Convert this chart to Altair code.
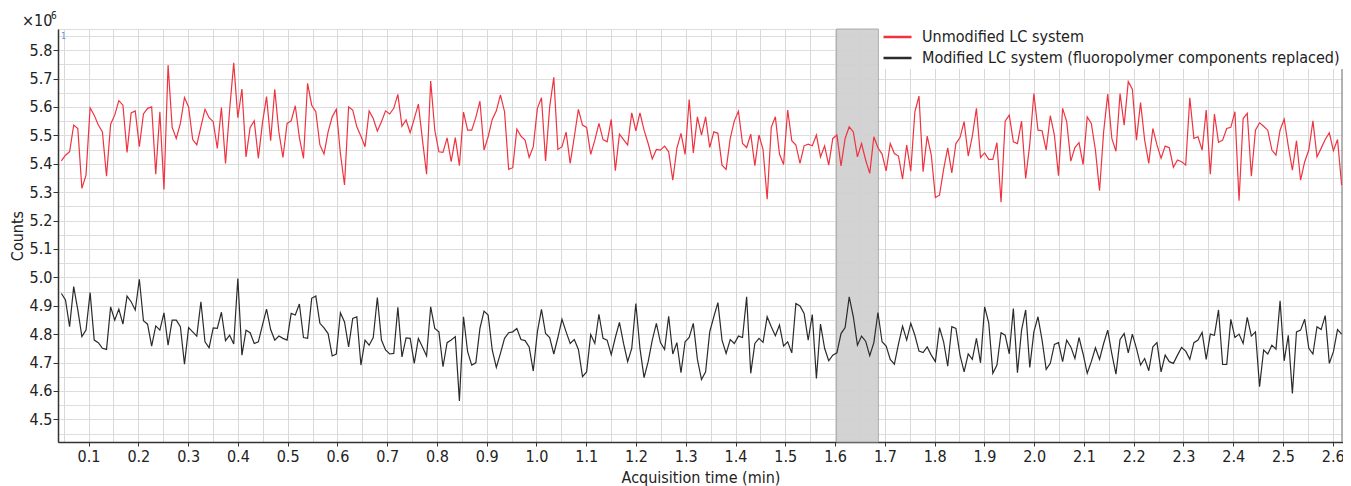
import altair as alt
import pandas as pd

# ---------------- data ----------------
SERIES = ["Unmodified LC system",
          "Modified LC system (fluoropolymer components replaced)"]
COLORS = ["#ef3340", "#2b2b2b"]

# acquisition: first scan time and scan interval (min)
t_start = 0.0454
t_step = 0.008245

unmodified = [
    5.410, 5.430, 5.442, 5.536, 5.524, 5.313, 5.360, 5.597, 5.571, 5.536,
    5.512, 5.356, 5.539, 5.571, 5.622, 5.606, 5.440, 5.579, 5.586, 5.460,
    5.575, 5.595, 5.600, 5.363, 5.583, 5.309, 5.747, 5.528, 5.489, 5.542,
    5.633, 5.600, 5.485, 5.466, 5.530, 5.592, 5.562, 5.548, 5.454, 5.598,
    5.401, 5.589, 5.755, 5.562, 5.663, 5.424, 5.528, 5.551, 5.419, 5.544,
    5.636, 5.481, 5.662, 5.512, 5.422, 5.542, 5.551, 5.604, 5.492, 5.419,
    5.683, 5.606, 5.583, 5.466, 5.434, 5.512, 5.565, 5.592, 5.436, 5.325,
    5.600, 5.589, 5.530, 5.497, 5.460, 5.586, 5.559, 5.515, 5.548, 5.586,
    5.575, 5.595, 5.644, 5.532, 5.554, 5.509, 5.559, 5.610, 5.483, 5.363,
    5.691, 5.518, 5.442, 5.440, 5.491, 5.407, 5.492, 5.393, 5.582, 5.518,
    5.518, 5.563, 5.620, 5.448, 5.495, 5.556, 5.586, 5.642, 5.583, 5.380,
    5.386, 5.522, 5.497, 5.483, 5.422, 5.460, 5.595, 5.632, 5.410, 5.600,
    5.704, 5.450, 5.460, 5.511, 5.401, 5.495, 5.591, 5.536, 5.528, 5.433,
    5.483, 5.542, 5.485, 5.477, 5.556, 5.375, 5.504, 5.485, 5.466, 5.579,
    5.516, 5.579, 5.518, 5.471, 5.417, 5.450, 5.448, 5.462, 5.442, 5.342,
    5.454, 5.507, 5.433, 5.626, 5.438, 5.565, 5.501, 5.565, 5.457, 5.512,
    5.507, 5.395, 5.380, 5.489, 5.551, 5.585, 5.471, 5.457, 5.504, 5.393,
    5.501, 5.450, 5.275, 5.528, 5.565, 5.434, 5.397, 5.589, 5.481, 5.466,
    5.401, 5.463, 5.469, 5.463, 5.501, 5.424, 5.463, 5.395, 5.489, 5.501,
    5.392, 5.489, 5.530, 5.512, 5.424, 5.471, 5.413, 5.366, 5.495, 5.456,
    5.434, 5.375, 5.471, 5.436, 5.427, 5.346, 5.466, 5.374, 5.583, 5.638,
    5.372, 5.497, 5.430, 5.281, 5.289, 5.380, 5.456, 5.368, 5.471, 5.492,
    5.548, 5.427, 5.497, 5.595, 5.422, 5.438, 5.415, 5.415, 5.474, 5.264,
    5.550, 5.571, 5.477, 5.471, 5.550, 5.348, 5.469, 5.647, 5.518, 5.516,
    5.448, 5.569, 5.501, 5.358, 5.595, 5.548, 5.409, 5.457, 5.474, 5.397,
    5.565, 5.542, 5.448, 5.305, 5.512, 5.645, 5.489, 5.444, 5.647, 5.536,
    5.689, 5.662, 5.483, 5.615, 5.483, 5.401, 5.524, 5.466, 5.419, 5.462,
    5.456, 5.387, 5.413, 5.407, 5.395, 5.632, 5.489, 5.495, 5.448, 5.589,
    5.363, 5.575, 5.475, 5.483, 5.524, 5.528, 5.583, 5.270, 5.559, 5.577,
    5.356, 5.518, 5.544, 5.532, 5.518, 5.448, 5.430, 5.518, 5.557, 5.462,
    5.377, 5.481, 5.342, 5.407, 5.448, 5.551, 5.424, 5.454, 5.485, 5.509,
    5.446, 5.485, 5.325,
]

modified = [
    4.943, 4.920, 4.826, 4.967, 4.885, 4.791, 4.814, 4.946, 4.779, 4.770,
    4.750, 4.746, 4.896, 4.849, 4.888, 4.835, 4.934, 4.914, 4.885, 4.993,
    4.847, 4.835, 4.758, 4.829, 4.814, 4.875, 4.761, 4.849, 4.849, 4.826,
    4.694, 4.823, 4.808, 4.793, 4.914, 4.773, 4.752, 4.822, 4.820, 4.877,
    4.777, 4.796, 4.765, 4.996, 4.726, 4.814, 4.805, 4.767, 4.773, 4.832,
    4.888, 4.816, 4.779, 4.793, 4.785, 4.779, 4.873, 4.867, 4.906, 4.788,
    4.785, 4.926, 4.934, 4.838, 4.822, 4.802, 4.723, 4.730, 4.875, 4.843,
    4.755, 4.855, 4.861, 4.691, 4.779, 4.761, 4.788, 4.929, 4.779, 4.744,
    4.730, 4.732, 4.894, 4.720, 4.787, 4.785, 4.697, 4.785, 4.755, 4.723,
    4.896, 4.820, 4.808, 4.685, 4.770, 4.779, 4.791, 4.565, 4.861, 4.738,
    4.691, 4.699, 4.820, 4.881, 4.867, 4.744, 4.683, 4.732, 4.785, 4.805,
    4.808, 4.820, 4.781, 4.777, 4.755, 4.670, 4.808, 4.887, 4.802, 4.788,
    4.730, 4.788, 4.852, 4.808, 4.767, 4.781, 4.746, 4.650, 4.667, 4.799,
    4.767, 4.870, 4.785, 4.779, 4.728, 4.788, 4.841, 4.767, 4.703, 4.750,
    4.908, 4.750, 4.647, 4.703, 4.779, 4.838, 4.770, 4.746, 4.863, 4.730,
    4.770, 4.664, 4.773, 4.788, 4.838, 4.711, 4.640, 4.667, 4.808, 4.861,
    4.911, 4.779, 4.732, 4.781, 4.767, 4.793, 4.788, 4.931, 4.662, 4.767,
    4.785, 4.771, 4.861, 4.826, 4.794, 4.832, 4.758, 4.773, 4.734, 4.908,
    4.899, 4.873, 4.779, 4.869, 4.644, 4.835, 4.750, 4.706, 4.726, 4.734,
    4.802, 4.823, 4.931, 4.861, 4.761, 4.793, 4.775, 4.724, 4.770, 4.876,
    4.773, 4.758, 4.711, 4.694, 4.765, 4.828, 4.779, 4.838, 4.796, 4.740,
    4.735, 4.755, 4.726, 4.703, 4.823, 4.773, 4.687, 4.826, 4.820, 4.726,
    4.667, 4.730, 4.711, 4.785, 4.699, 4.896, 4.840, 4.662, 4.691, 4.805,
    4.796, 4.730, 4.890, 4.664, 4.814, 4.885, 4.683, 4.808, 4.861, 4.779,
    4.676, 4.697, 4.764, 4.770, 4.703, 4.779, 4.755, 4.714, 4.788, 4.730,
    4.662, 4.703, 4.752, 4.711, 4.767, 4.814, 4.730, 4.659, 4.781, 4.802,
    4.734, 4.800, 4.750, 4.691, 4.714, 4.671, 4.755, 4.770, 4.667, 4.726,
    4.703, 4.697, 4.726, 4.753, 4.740, 4.711, 4.770, 4.779, 4.806, 4.711,
    4.800, 4.796, 4.885, 4.693, 4.693, 4.852, 4.788, 4.800, 4.767, 4.859,
    4.793, 4.808, 4.615, 4.744, 4.730, 4.761, 4.747, 4.917, 4.706, 4.796,
    4.591, 4.808, 4.814, 4.852, 4.750, 4.730, 4.826, 4.816, 4.865, 4.697,
    4.738, 4.816, 4.800,
]

# highlighted (grey) time window, min
band_start = [1.603]
band_end = [1.687]

# axis ticks / grid
x_ticks = [round(0.1 * k, 1) for k in range(1, 27)]          # 0.1 .. 2.6
x_grid = [round(0.05 * k, 2) for k in range(1, 53)]          # every 0.05
y_ticks = [round(4.5 + 0.1 * k, 1) for k in range(0, 14)]    # 4.5 .. 5.8
y_grid = [round(4.45 + 0.05 * k, 2) for k in range(0, 29)]   # every 0.05
x_domain = [0.0386, 2.6206]
y_domain = [4.4201, 5.8743]

# ---------------- build ----------------
n = len(unmodified)
assert n == len(modified)
times = [round(t_start + i * t_step, 5) for i in range(n)]
df = pd.concat([
    pd.DataFrame({"t": times, "v": unmodified, "series": SERIES[0]}),
    pd.DataFrame({"t": times, "v": modified, "series": SERIES[1]}),
], ignore_index=True)

FONT = "Liberation Sans Narrow, DejaVu Sans Condensed, Roboto, sans-serif"
W, H = 1285, 413
xs = alt.Scale(domain=x_domain, nice=False, zero=False)
ys = alt.Scale(domain=y_domain, nice=False, zero=False)

grid = alt.Chart(df).mark_line(opacity=0).encode(
    x=alt.X("t:Q", scale=xs, axis=alt.Axis(
        values=x_grid, grid=True, gridColor="#d9d9d9", gridWidth=1,
        labels=False, ticks=False, domain=False, title=None, orient="bottom")),
    y=alt.Y("v:Q", scale=ys, axis=alt.Axis(
        values=y_grid, grid=True, gridColor="#dddddd", gridWidth=1,
        labels=False, ticks=False, domain=False, title=None, orient="left")),
    detail="series:N",
)

band = alt.Chart(pd.DataFrame({"b0": band_start, "b1": band_end})).mark_rect(
    fill="#d0d0d0", stroke="#a6a6a6", strokeWidth=1, opacity=0.92
).encode(
    x=alt.X("b0:Q", scale=xs, axis=None),
    x2="b1:Q",
    y=alt.value(0),
    y2=alt.value(H),
)

# right frame line of the plot area
frame = alt.Chart(pd.DataFrame({"k": [0]})).mark_rule(
    color="#9a9a9a", strokeWidth=1.5
).encode(x=alt.value(W - 1), y=alt.value(0), y2=alt.value(H))

lines = alt.Chart(df).mark_line(strokeWidth=1.2).encode(
    x=alt.X("t:Q", scale=xs, axis=alt.Axis(
        values=x_ticks, format=".1f", grid=False, orient="bottom",
        title="Acquisition time (min)", labelFont=FONT, labelFontSize=16,
        labelColor="#222222", labelPadding=2, labelFlush=False, labelOverlap=False,
        tickSize=4, tickColor="#333333", domainColor="#333333", domainWidth=1.5,
        titleFont=FONT, titleFontSize=16, titleFontWeight="normal",
        titleColor="#222222", titlePadding=5)),
    y=alt.Y("v:Q", scale=ys, axis=alt.Axis(
        values=y_ticks, format=".1f", grid=False, orient="left",
        title="Counts", labelFont=FONT, labelFontSize=16,
        labelColor="#222222", labelPadding=1, labelOverlap=False,
        tickSize=5, tickColor="#333333", domainColor="#333333", domainWidth=1.5,
        titleFont=FONT, titleFontSize=16, titleFontWeight="normal",
        titleColor="#222222", titlePadding=4)),
    color=alt.Color("series:N", scale=alt.Scale(domain=SERIES, range=COLORS),
                    legend=alt.Legend(
                        title=None, orient="none", legendX=821, legendY=-3,
                        direction="vertical", fillColor="white", padding=3,
                        labelFont=FONT, labelFontSize=16, labelColor="#222222",
                        symbolType="stroke", symbolSize=784, symbolStrokeWidth=2.5,
                        clipHeight=16, labelOffset=9, rowPadding=5, labelLimit=700)),
    detail="series:N",
)

times_lbl = alt.Chart(pd.DataFrame({"s": ["×10"]})).mark_text(
    align="left", baseline="alphabetic", font=FONT, fontSize=16, color="#222222"
).encode(x=alt.value(-36), y=alt.value(-3), text="s:N")
exp_lbl = alt.Chart(pd.DataFrame({"s": ["6"]})).mark_text(
    align="left", baseline="alphabetic", font=FONT, fontSize=10, color="#222222"
).encode(x=alt.value(-7), y=alt.value(-10), text="s:N")
marker_lbl = alt.Chart(pd.DataFrame({"s": ["1"]})).mark_text(
    align="left", baseline="middle", font=FONT, fontSize=9, color="#5b9bd5"
).encode(x=alt.value(3), y=alt.value(7), text="s:N")

chart = alt.layer(grid, band, frame, lines, times_lbl, exp_lbl, marker_lbl).resolve_axis(
    x="independent", y="independent"
).properties(
    width=W, height=H,
    padding={"left": 50, "top": 21, "right": 0, "bottom": 44},
    autosize=alt.AutoSizeParams(type="none"),
).configure_view(stroke=None).configure(background="white")

chart.save("out.html", embed_options={"renderer": "svg", "actions": False})
